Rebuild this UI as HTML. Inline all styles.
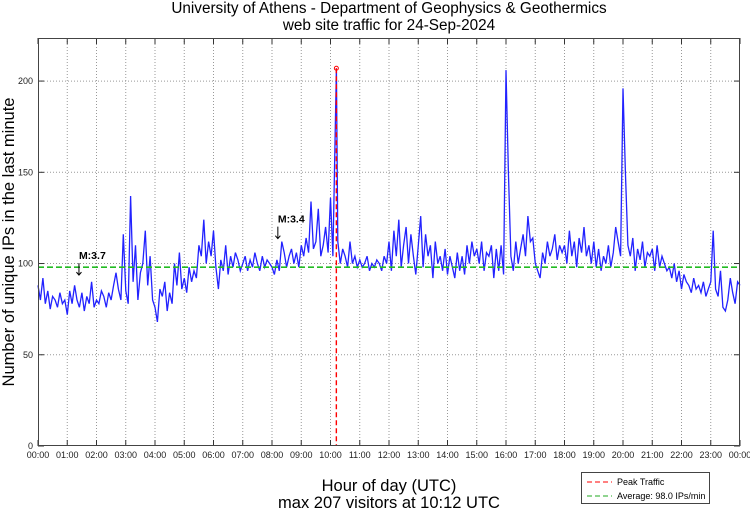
<!DOCTYPE html>
<html><head><meta charset="utf-8"><style>
body{margin:0;background:#fff;width:750px;height:511px;overflow:hidden}
svg{display:block;font-family:"Liberation Sans",sans-serif}
</style></head><body>
<svg id="chart" width="750" height="511" viewBox="0 0 750 511" xmlns="http://www.w3.org/2000/svg">
<text x="389" y="13" font-size="15.3" text-anchor="middle">University of Athens - Department of Geophysics &amp; Geothermics</text>
<text x="389" y="30" font-size="15.3" text-anchor="middle">web site traffic for 24-Sep-2024</text>
<text x="389" y="491" font-size="16.5" text-anchor="middle">Hour of day (UTC)</text>
<text x="389" y="508" font-size="16.5" text-anchor="middle">max 207 visitors at 10:12 UTC</text>
<text transform="translate(14,242) rotate(-90)" font-size="16.5" text-anchor="middle">Number of unique IPs in the last minute</text>
<g id="grid"></g><g id="series"></g><g id="axes"></g>
<g>
<rect x="581.5" y="472.5" width="128" height="31" fill="#fff" stroke="#444"/>
<line x1="587" y1="482" x2="612" y2="482" stroke="#f00" stroke-dasharray="5,3"/>
<text x="617" y="485" font-size="9">Peak Traffic</text>
<line x1="587" y1="496" x2="612" y2="496" stroke="#2a2" stroke-dasharray="5,3"/>
<text x="617" y="499" font-size="9">Average: 98.0 IPs/min</text>
</g>
</svg>
<script>
const values=[
88,80,92,78,85,75,82,80,76,84,78,80,
72,85,78,88,80,76,84,74,82,78,90,76,
80,78,85,82,76,84,80,88,95,86,80,116,
85,78,137,90,110,80,95,100,118,88,104,80,
76,68,86,82,90,74,84,78,100,88,106,86,
92,84,98,90,96,92,110,104,124,100,112,104,
118,98,86,102,96,110,94,104,98,106,102,96,
100,104,96,102,98,106,100,96,104,98,102,100,
98,94,102,96,112,106,98,104,108,100,106,98,
110,104,114,106,134,108,112,130,104,110,120,106,
136,104,178,112,100,108,104,98,112,100,104,98,
102,98,100,104,96,100,98,102,100,96,104,100,
112,96,118,104,124,98,110,120,100,116,104,94,
110,126,98,116,104,110,92,112,100,104,96,108,
94,104,98,92,106,96,104,94,110,100,112,104,
108,100,112,96,106,104,110,92,108,96,110,94,
206,150,104,96,112,100,108,116,104,126,112,114,
100,96,92,106,100,112,104,108,116,102,110,106,
110,100,118,104,112,98,114,106,120,104,110,100,
112,98,108,96,104,100,110,98,106,120,112,104,
196,150,110,104,114,96,108,102,112,98,106,104,
108,96,110,98,104,100,96,98,92,100,90,96,
86,94,90,88,84,92,86,88,84,90,82,86,
90,118,86,82,96,76,74,80,92,84,78,90,88];
const stepMinutes=5;
const peakMinute=612, peakValue=207;
const averageValue=98;
const yTicks=[0,50,100,150,200];
const xTickLabels=["00:00","01:00","02:00","03:00","04:00","05:00","06:00","07:00","08:00","09:00","10:00","11:00","12:00","13:00","14:00","15:00","16:00","17:00","18:00","19:00","20:00","21:00","22:00","23:00","00:00"];
const quakes=[{minute:84,label:"M:3.7",v:92},{minute:492,label:"M:3.4",v:112}];

const L=38,R=740,T=38,B=446,YMAX=223.6;
const X=m=>L+(R-L)*m/1440, Y=v=>B-(B-T)*v/YMAX;
const NS="http://www.w3.org/2000/svg";
function mk(tag,a,p){const e=document.createElementNS(NS,tag);for(const k in a)e.setAttribute(k,a[k]);p.appendChild(e);return e;}
const grid=document.getElementById('grid'),axes=document.getElementById('axes'),ser=document.getElementById('series');
xTickLabels.forEach((t,i)=>{const x=X(i*60);
 if(i>0&&i<24){const g=mk('line',{x1:x,y1:T,x2:x,y2:B,stroke:'#999','stroke-dasharray':'1,2'},grid);
 
 }
 mk('line',{x1:x,y1:B,x2:x,y2:B-6,stroke:'#333'},axes);mk('line',{x1:x,y1:T,x2:x,y2:T+6,stroke:'#333'},axes);
 const tx=mk('text',{x:x,y:B+12,'font-size':9,'text-anchor':'middle',fill:'#222'},axes);tx.textContent=t;
 
 });
yTicks.forEach(v=>{const y=Y(v);
 if(v>0){const g=mk('line',{x1:L,y1:y,x2:R,y2:y,stroke:'#999','stroke-dasharray':'1,2'},grid);
 
 }
 mk('line',{x1:L,y1:y,x2:L+6,y2:y,stroke:'#333'},axes);mk('line',{x1:R,y1:y,x2:R-6,y2:y,stroke:'#333'},axes);
 const tx=mk('text',{x:L-5,y:y+3,'font-size':9,'text-anchor':'end',fill:'#222'},axes);tx.textContent=v;
 
 });
const fr=mk('rect',{x:L+.5,y:T+.5,width:R-L-1,height:B-T-1,fill:'none',stroke:'#444'},axes);


let pts=values.map((v,i)=>[i*stepMinutes,v]);
pts.push([peakMinute,peakValue]);pts.sort((a,b)=>a[0]-b[0]);
const line=mk('polyline',{points:pts.map(p=>X(p[0]).toFixed(1)+','+Y(p[1]).toFixed(1)).join(' '),fill:'none',stroke:'#2222ff','stroke-width':1.3},ser);


const avg=mk('line',{x1:L,y1:Y(averageValue),x2:R,y2:Y(averageValue),stroke:'#22bb22','stroke-width':1.6,'stroke-dasharray':'6,3'},ser);


const pk=mk('line',{x1:X(peakMinute),y1:Y(peakValue),x2:X(peakMinute),y2:B,stroke:'#f00','stroke-width':1.4,'stroke-dasharray':'5,3'},ser);


const pc=mk('circle',{cx:X(peakMinute),cy:Y(peakValue),r:2,fill:'none',stroke:'#f00'},ser);


quakes.forEach(q=>{const x=X(q.minute),y=Y(q.v);
 const t=mk('text',{x:x,y:y-19,'font-size':10.5,'font-weight':'bold'},ser);t.textContent=q.label;
 
 
 const a=mk('path',{d:`M${x},${y-15}V${y-3}M${x-2.5},${y-6}L${x},${y-3}L${x+2.5},${y-6}`,stroke:'#000',fill:'none'},ser);
 
 });
</script>
</body></html>
